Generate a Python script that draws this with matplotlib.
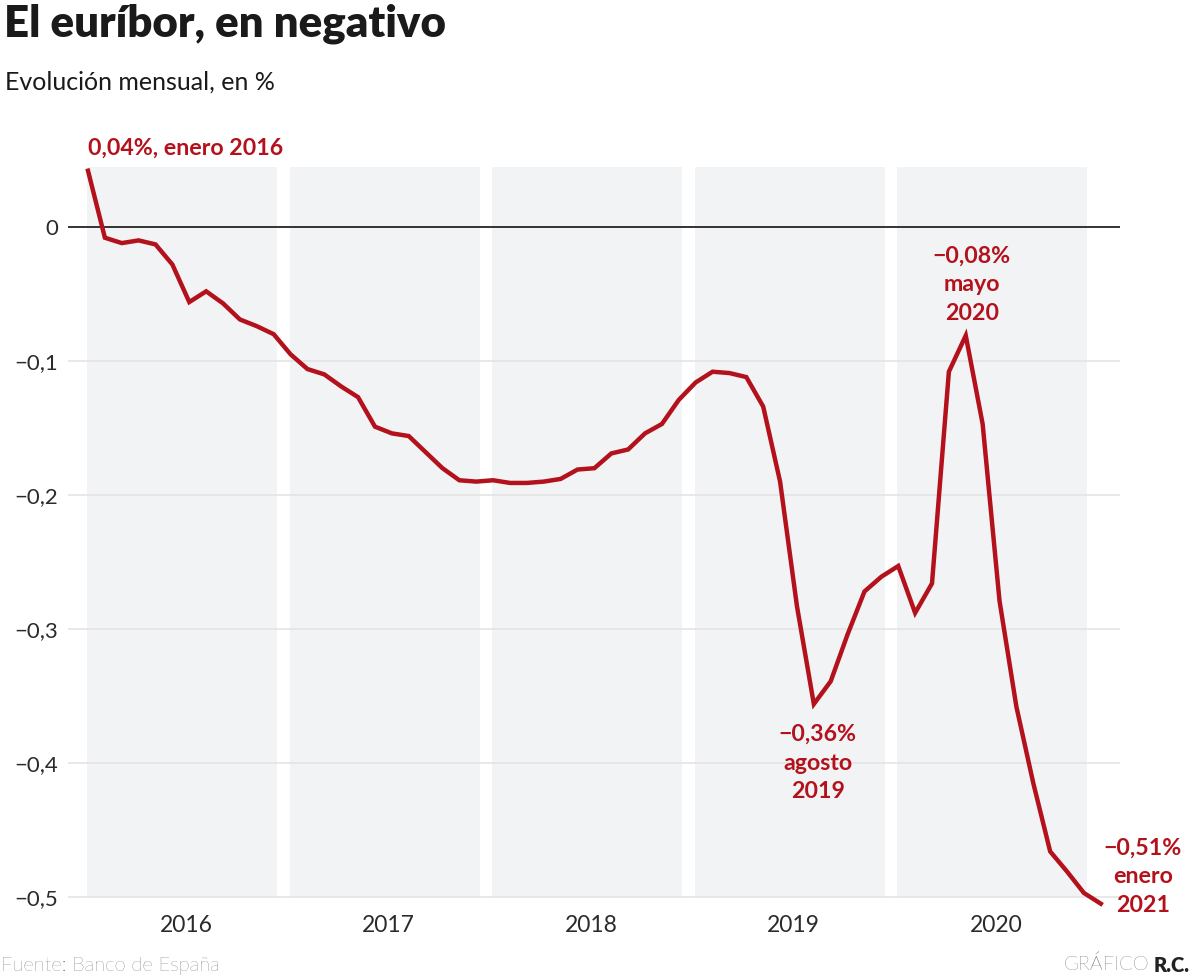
import matplotlib
matplotlib.use("Agg")
import matplotlib.pyplot as plt

# ---- data ----
years = [2016, 2017, 2018, 2019, 2020]
euribor = [
    0.042, -0.008, -0.012, -0.010, -0.013, -0.028, -0.056, -0.048, -0.057, -0.069, -0.074, -0.080,
    -0.095, -0.106, -0.110, -0.119, -0.127, -0.149, -0.154, -0.156, -0.168, -0.180, -0.189, -0.190,
    -0.189, -0.191, -0.191, -0.190, -0.188, -0.181, -0.180, -0.169, -0.166, -0.154, -0.147, -0.129,
    -0.116, -0.108, -0.109, -0.112, -0.134, -0.190, -0.283, -0.356, -0.339, -0.304, -0.272, -0.261,
    -0.253, -0.288, -0.266, -0.108, -0.081, -0.147, -0.279, -0.358, -0.415, -0.466, -0.481, -0.497,
    -0.505,
]
yticks = [0, -0.1, -0.2, -0.3, -0.4, -0.5]
ytick_labels = ["0", "\u22120,1", "\u22120,2", "\u22120,3", "\u22120,4", "\u22120,5"]
annotations = [
    (0, "0,04%, enero 2016"),
    (43, "\u22120,36%\nagosto\n2019"),
    (52, "\u22120,08%\nmayo\n2020"),
    (60, "\u22120,51%\nenero\n2021"),
]

RED = "#b3121c"
BAND = "#f2f3f5"
GRID = "#e4e4e4"
TXT = "#2b2b2b"

W, H = 1195, 980
fig = plt.figure(figsize=(W / 100, H / 100), dpi=100)
left_px, right_px = 68, 1120
ax = fig.add_axes([left_px / W, 1 - 923.8 / H, (right_px - left_px) / W, (923.8 - 160) / H])
ax.set_xlim((left_px - 88) / 16.88, (right_px - 88) / 16.88)
ax.set_ylim(-0.52, 0.05)

# year bands
for i, yr in enumerate(years):
    ax.fill_between([12 * i - 0.05, 12 * i + 11.2], -0.5, 0.045, color=BAND, lw=0, zorder=0)
    ax.annotate(str(yr), xy=(12 * i + 5.8, -0.5), xytext=(0, -18), textcoords="offset pixels",
                ha="center", va="top", fontsize=16.5, color=TXT, family="Lato")

# gridlines
for v in yticks:
    if v == 0:
        ax.axhline(v, color="#333333", lw=1.4, zorder=1)
    else:
        ax.axhline(v, color=GRID, lw=1.2, zorder=1)

ax.plot(range(len(euribor)), euribor, color=RED, lw=3.2, zorder=3, solid_joinstyle="miter")

ax.set_yticks(yticks)
ax.set_yticklabels(ytick_labels, fontsize=16, color=TXT, family="Lato")
ax.tick_params(axis="y", length=0, pad=7)
ax.set_xticks([])
for s in ax.spines.values():
    s.set_visible(False)

# annotations
offsets = {0: (0, 12, "left", "bottom"), 43: (4, -20, "center", "top"),
           52: (6, 12, "center", "bottom"), 60: (42, 27, "center", "center")}
for idx, txt in annotations:
    dx, dy, ha, va = offsets[idx]
    ax.annotate(txt, xy=(idx, euribor[idx]), xytext=(dx, dy), textcoords="offset pixels",
                ha=ha, va=va, fontsize=16.7, color=RED, fontweight="bold", family="Lato",
                linespacing=1.45, multialignment="center")

# titles
fig.text(4 / W, 1 - 24 / H, "El euríbor, en negativo", fontsize=31.5, fontweight="heavy",
         family="Lato", color="#1a1a1a", va="center", ha="left")
fig.text(5 / W, 1 - 82 / H, "Evolución mensual, en %", fontsize=18, family="Lato",
         color="#1a1a1a", va="center", ha="left")
fig.text(1 / W, 1 - 966 / H, "Fuente: Banco de España", fontsize=14.5, family="Lato",
         fontweight="light", color="#3a3a3a", va="center", ha="left")
rc = fig.text(1190 / W, 1 - 965 / H, "R.C.", fontsize=14.5, family="Lato", fontweight="heavy",
              color="#222222", va="center", ha="right")
fig.canvas.draw()
bb = rc.get_window_extent()
fig.text((bb.x0 - 5) / W, 1 - 965 / H, "GRÁFICO", fontsize=14.5, family="Lato",
         fontweight="light", color="#222222", va="center", ha="right")

fig.savefig("out.png", dpi=100)
